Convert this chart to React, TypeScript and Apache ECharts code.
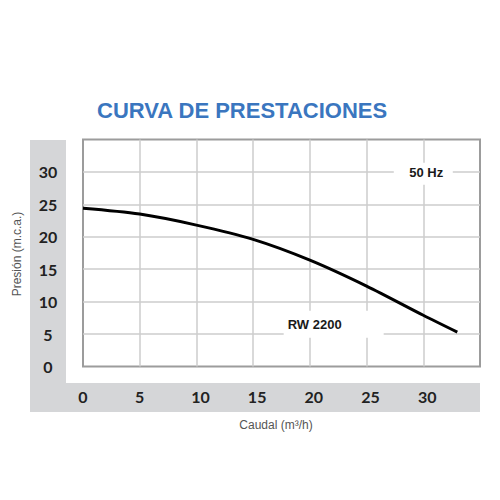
import React, { useEffect, useRef } from "react";
import * as echarts from "echarts";

const flowValues = [0, 5, 10, 15, 20, 25, 30, 33];
const pressureValues = [24.4, 23.5, 21.8, 19.6, 16.4, 12.4, 7.9, 5.3];
const xMax = 35;
const yMax = 35;
const tickStep = 5;
const lastTickLabel = 30;
const annotationTexts = ["50 Hz", "RW 2200"];
const annotationX = [30, 22.1];
const annotationY = [29.7, 6.5];

const titleText = "CURVA DE PRESTACIONES";
const xTitle = "Caudal (m³/h)";
const yTitle = "Presión (m.c.a.)";

const tickFont = {
  fontSize: 16,
  fontWeight: "bold" as const,
  color: "#222222",
  fontFamily: "Lato, 'Liberation Sans', sans-serif",
};

export default function App() {
  const ref = useRef<HTMLDivElement>(null);

  useEffect(() => {
    if (!ref.current) return;
    const chart = echarts.init(ref.current, null, { renderer: "svg" });
    const annW = [59, 100];
    const annH = [22, 27];
    const annOff = [
      [3, -1],
      [-19, 0],
    ];
    chart.setOption({
      animation: false,
      backgroundColor: "#ffffff",
      title: {
        text: titleText,
        left: 97,
        top: 99,
        padding: 0,
        textStyle: {
          color: "#3a76bf",
          fontSize: 22,
          fontWeight: "bold",
          fontFamily: "'Liberation Sans', Arial, sans-serif",
        },
      },
      grid: {
        left: 83,
        top: 139.5,
        width: 397,
        height: 227,
        show: true,
        backgroundColor: "#ffffff",
        borderColor: "#9c9c9c",
        borderWidth: 2,
      },
      graphic: [
        {
          type: "rect",
          shape: { x: 30, y: 140, width: 36, height: 272 },
          style: { fill: "#d5d6d8" },
          silent: true,
        },
        {
          type: "rect",
          shape: { x: 30, y: 383, width: 450, height: 29 },
          style: { fill: "#d5d6d8" },
          silent: true,
        },
        {
          type: "text",
          x: 276,
          y: 425,
          style: {
            text: xTitle,
            fill: "#555555",
            fontSize: 12,
            fontFamily: "'Liberation Sans', Arial, sans-serif",
            align: "center",
            verticalAlign: "middle",
          },
        },
        {
          type: "text",
          x: 17,
          y: 254,
          rotation: Math.PI / 2,
          style: {
            text: yTitle,
            fill: "#555555",
            fontSize: 12,
            fontFamily: "'Liberation Sans', Arial, sans-serif",
            align: "center",
            verticalAlign: "middle",
          },
        },
      ],
      xAxis: {
        type: "value",
        min: 0,
        max: xMax,
        interval: tickStep,
        axisLine: { show: false },
        axisTick: { show: false },
        splitLine: {
          show: true,
          showMinLine: false,
          showMaxLine: false,
          lineStyle: { color: "#cdcdcd", width: 1.5 },
        },
        axisLabel: {
          margin: 22,
          formatter: (v: number) =>
            v > lastTickLabel ? "" : v < 10 ? `{a|${v}}` : `{b|${v}}`,
          rich: {
            a: { ...tickFont },
            b: { ...tickFont, padding: [0, 0, 0, 8] },
          },
        },
      },
      yAxis: {
        type: "value",
        min: 0,
        max: yMax,
        interval: tickStep,
        axisLine: { show: false },
        axisTick: { show: false },
        splitLine: {
          show: true,
          showMinLine: false,
          showMaxLine: false,
          lineStyle: { color: "#cdcdcd", width: 1.5 },
        },
        axisLabel: {
          margin: 35,
          align: "center",
          ...tickFont,
          formatter: (v: number) => (v > lastTickLabel ? "" : String(v)),
        },
      },
      series: [
        {
          type: "line",
          data: flowValues.map((x, i) => [x, pressureValues[i]]),
          smooth: 0.3,
          symbol: "none",
          lineStyle: { color: "#000000", width: 3 },
          z: 3,
          markPoint: {
            symbol: "rect",
            silent: true,
            itemStyle: { color: "#ffffff" },
            label: {
              show: true,
              color: "#1a1a1a",
              fontSize: 13,
              fontWeight: "bold",
              fontFamily: "'Liberation Sans', Arial, sans-serif",
            },
            data: annotationTexts.map((t, i) => ({
              coord: [annotationX[i], annotationY[i]],
              symbolSize: [annW[i], annH[i]],
              label: { formatter: t, offset: annOff[i] },
            })),
          },
        },
      ],
    });
    return () => chart.dispose();
  }, []);

  return (
    <div
      ref={ref}
      style={{
        position: "absolute",
        left: 0,
        top: 0,
        width: 500,
        height: 500,
        background: "#ffffff",
      }}
    />
  );
}
